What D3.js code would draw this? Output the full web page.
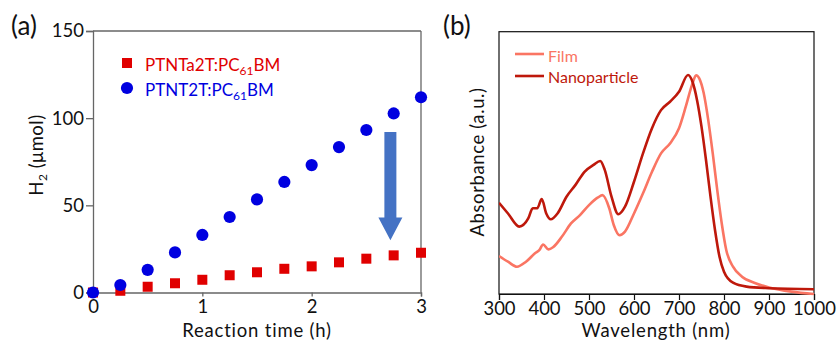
<!DOCTYPE html>
<html><head><meta charset="utf-8">
<script src="https://cdn.jsdelivr.net/npm/d3@7"></script>
<style>
body{margin:0;background:#fff;}
svg{display:block;}
text{font-family:Lato,"Open Sans",sans-serif;}
</style></head>
<body>
<svg id="c" width="839" height="344"></svg>
<script>
// Panel (a) data
const timeH = [0,0.25,0.5,0.75,1,1.25,1.5,1.75,2,2.25,2.5,2.75,3];
const ptnta2t = [0,1,3.3,5.3,7.3,9.9,11.6,13.6,15,17.3,19.4,21.3,22.8];
const ptnt2t = [0,4.3,13,23,33,43.3,53.4,63.4,73.1,83.4,93.2,102.7,112];
const yTicksA = [0,50,100,150];
const xTicksA = [0,1,2,3];
// Panel (b) data (arbitrary units)
const wlNano = [300,320,345,365,375,385,395,405,415,430,450,470,490,510,525,535,550,565,580,600,620,640,660,680,700,720,730,740,750,760,770,780,790,800,820,850,900,1000];
const absNano = [0.348,0.307,0.257,0.288,0.327,0.327,0.362,0.307,0.285,0.307,0.371,0.416,0.466,0.492,0.507,0.473,0.371,0.304,0.333,0.428,0.536,0.632,0.701,0.733,0.771,0.835,0.809,0.740,0.638,0.511,0.371,0.244,0.142,0.085,0.043,0.028,0.022,0.018];
const wlFilm = [300,320,340,360,380,390,398,410,420,440,460,480,500,520,530,545,555,568,580,600,620,640,660,680,700,715,730,738,745,755,765,775,785,795,805,820,840,870,900,950,1000];
const absFilm = [0.145,0.123,0.104,0.123,0.155,0.168,0.189,0.170,0.178,0.219,0.269,0.301,0.339,0.368,0.377,0.327,0.263,0.224,0.238,0.307,0.384,0.466,0.536,0.574,0.632,0.714,0.803,0.834,0.822,0.765,0.663,0.536,0.396,0.269,0.168,0.104,0.066,0.041,0.025,0.009,0.0];
const xTicksB = [300,400,500,600,700,800,900,1000];

const svg = d3.select("#c");
const gray = "#666";

// ---------- Panel (a) ----------
const ax = d3.scaleLinear().domain([0,3]).range([93,421]);
const ay = d3.scaleLinear().domain([0,150]).range([292.5,31]);

const gA = svg.append("g");
// frame top & right
gA.append("line").attr("x1",93).attr("x2",421).attr("y1",ay(150)).attr("y2",ay(150)).attr("stroke",gray).attr("stroke-width",1.3);
gA.append("line").attr("x1",421).attr("x2",421).attr("y1",ay(150)).attr("y2",ay(0)).attr("stroke",gray).attr("stroke-width",1.3);

const yAxA = gA.append("g").attr("transform","translate(93,0)")
  .call(d3.axisLeft(ay).tickValues(yTicksA).tickSize(7).tickPadding(2).tickFormat(d3.format("d")));
const xAxA = gA.append("g").attr("transform",`translate(0,${ay(0)})`)
  .call(d3.axisBottom(ax).tickValues(xTicksA).tickSize(4).tickPadding(3).tickFormat(d3.format("d")));
[yAxA,xAxA].forEach(g=>{
  g.select(".domain").attr("stroke",gray).attr("stroke-width",1.3);
  g.selectAll(".tick line").attr("stroke",gray).attr("stroke-width",1.3);
  g.selectAll(".tick text").attr("fill","#111").style("font-size","18.5px").style("font-family","Lato,sans-serif");
});

// arrow
const arX = ax(2.72);
gA.append("path")
  .attr("d",`M${arX-6},${ay(92)} L${arX+6},${ay(92)} L${arX+6},${ay(43)} L${arX+12},${ay(43)} L${arX},${ay(30)} L${arX-12},${ay(43)} L${arX-6},${ay(43)} Z`)
  .attr("fill","#4472C4");

// markers
gA.selectAll("rect.sq").data(timeH).join("rect").attr("class","sq")
  .attr("x",(d)=>ax(d)-5).attr("y",(d,i)=>ay(ptnta2t[i])-5).attr("width",10).attr("height",10).attr("fill","#E00000");
gA.selectAll("circle.ci").data(timeH).join("circle").attr("class","ci")
  .attr("cx",d=>ax(d)).attr("cy",(d,i)=>ay(ptnt2t[i])).attr("r",6.1).attr("fill","#0000E0");

// legend a
const legA = gA.append("g").style("font-family","'Liberation Sans',Arial,sans-serif").style("font-size","17px");
legA.append("rect").attr("x",122).attr("y",58).attr("width",10).attr("height",10).attr("fill","#E00000");
const tA1 = legA.append("text").attr("x",145).attr("y",71).attr("fill","#E00000");
tA1.append("tspan").text("PTNTa2T:PC");
tA1.append("tspan").text("61").attr("dy",4).style("font-size","12px");
tA1.append("tspan").text("BM").attr("dy",-4);
legA.append("circle").attr("cx",127).attr("cy",88).attr("r",6.1).attr("fill","#0000E0");
const tA2 = legA.append("text").attr("x",145).attr("y",96).attr("fill","#0000E0");
tA2.append("tspan").text("PTNT2T:PC");
tA2.append("tspan").text("61").attr("dy",4).style("font-size","12px");
tA2.append("tspan").text("BM").attr("dy",-4);

// axis titles a
const ylA = gA.append("text").attr("transform","translate(43,155) rotate(-90)").attr("text-anchor","middle")
  .style("font-size","18.5px").style("letter-spacing","0.5px").attr("fill","#111");
ylA.append("tspan").text("H");
ylA.append("tspan").text("2").attr("dy",4).style("font-size","12px");
ylA.append("tspan").text(" (μmol)").attr("dy",-4);
gA.append("text").attr("x",257).attr("y",337).attr("text-anchor","middle").style("font-size","18.5px").style("letter-spacing","0.8px").attr("fill","#111").text("Reaction time (h)");
gA.append("text").attr("x",11).attr("y",35).style("font-size","26px").attr("fill","#111").text("(a)");

// ---------- Panel (b) ----------
const bx = d3.scaleLinear().domain([300,1000]).range([499,814]);
const by = d3.scaleLinear().domain([0,1]).range([294,31.7]);
const gB = svg.append("g");
gB.append("rect").attr("x",499).attr("y",31.7).attr("width",315).attr("height",294-31.7).attr("fill","none").attr("stroke","#111").attr("stroke-width",1.2);
const xAxB = gB.append("g").attr("transform","translate(0,294)")
  .call(d3.axisBottom(bx).tickValues(xTicksB).tickSize(6).tickPadding(2).tickFormat(d3.format("d")));
xAxB.select(".domain").attr("stroke","#111").attr("stroke-width",1.2);
xAxB.selectAll(".tick line").attr("stroke","#111").attr("stroke-width",1.2);
xAxB.selectAll(".tick text").attr("fill","#111").style("font-size","18.5px").style("font-family","Lato,sans-serif");

const line = d3.line().curve(d3.curveMonotoneX);
gB.append("clipPath").attr("id","clipB").append("rect").attr("x",499).attr("y",31.7).attr("width",315).attr("height",264);
const filmPts = wlFilm.map((w,i)=>[bx(w),by(absFilm[i])]);
const nanoPts = wlNano.map((w,i)=>[bx(w),by(absNano[i])]);
gB.append("path").attr("d",line(filmPts)).attr("fill","none").attr("stroke","#FA7563").attr("stroke-width",2.6).attr("clip-path","url(#clipB)");
gB.append("path").attr("d",line(nanoPts)).attr("fill","none").attr("stroke","#BE180B").attr("stroke-width",2.6).attr("clip-path","url(#clipB)");

// legend b
const legB = gB.append("g").style("font-size","16px").style("font-family","'Open Sans',Lato,sans-serif");
legB.append("line").attr("x1",515).attr("x2",544).attr("y1",54).attr("y2",54).attr("stroke","#FA7563").attr("stroke-width",2.6);
legB.append("text").attr("x",548).attr("y",62).attr("fill","#FA7563").text("Film");
legB.append("line").attr("x1",515).attr("x2",544).attr("y1",76).attr("y2",76).attr("stroke","#BE180B").attr("stroke-width",2.6);
legB.append("text").attr("x",548).attr("y",83).attr("fill","#BE180B").text("Nanoparticle");

gB.append("text").attr("transform","translate(484,162) rotate(-90)").attr("text-anchor","middle").style("font-size","18.5px").style("letter-spacing","0.6px").attr("fill","#111").text("Absorbance (a.u.)");
gB.append("text").attr("x",656).attr("y",337).attr("text-anchor","middle").style("font-size","18.5px").style("letter-spacing","0.8px").attr("fill","#111").text("Wavelength (nm)");
gB.append("text").attr("x",443).attr("y",35).style("font-size","26px").attr("fill","#111").text("(b)");
</script>
</body></html>
